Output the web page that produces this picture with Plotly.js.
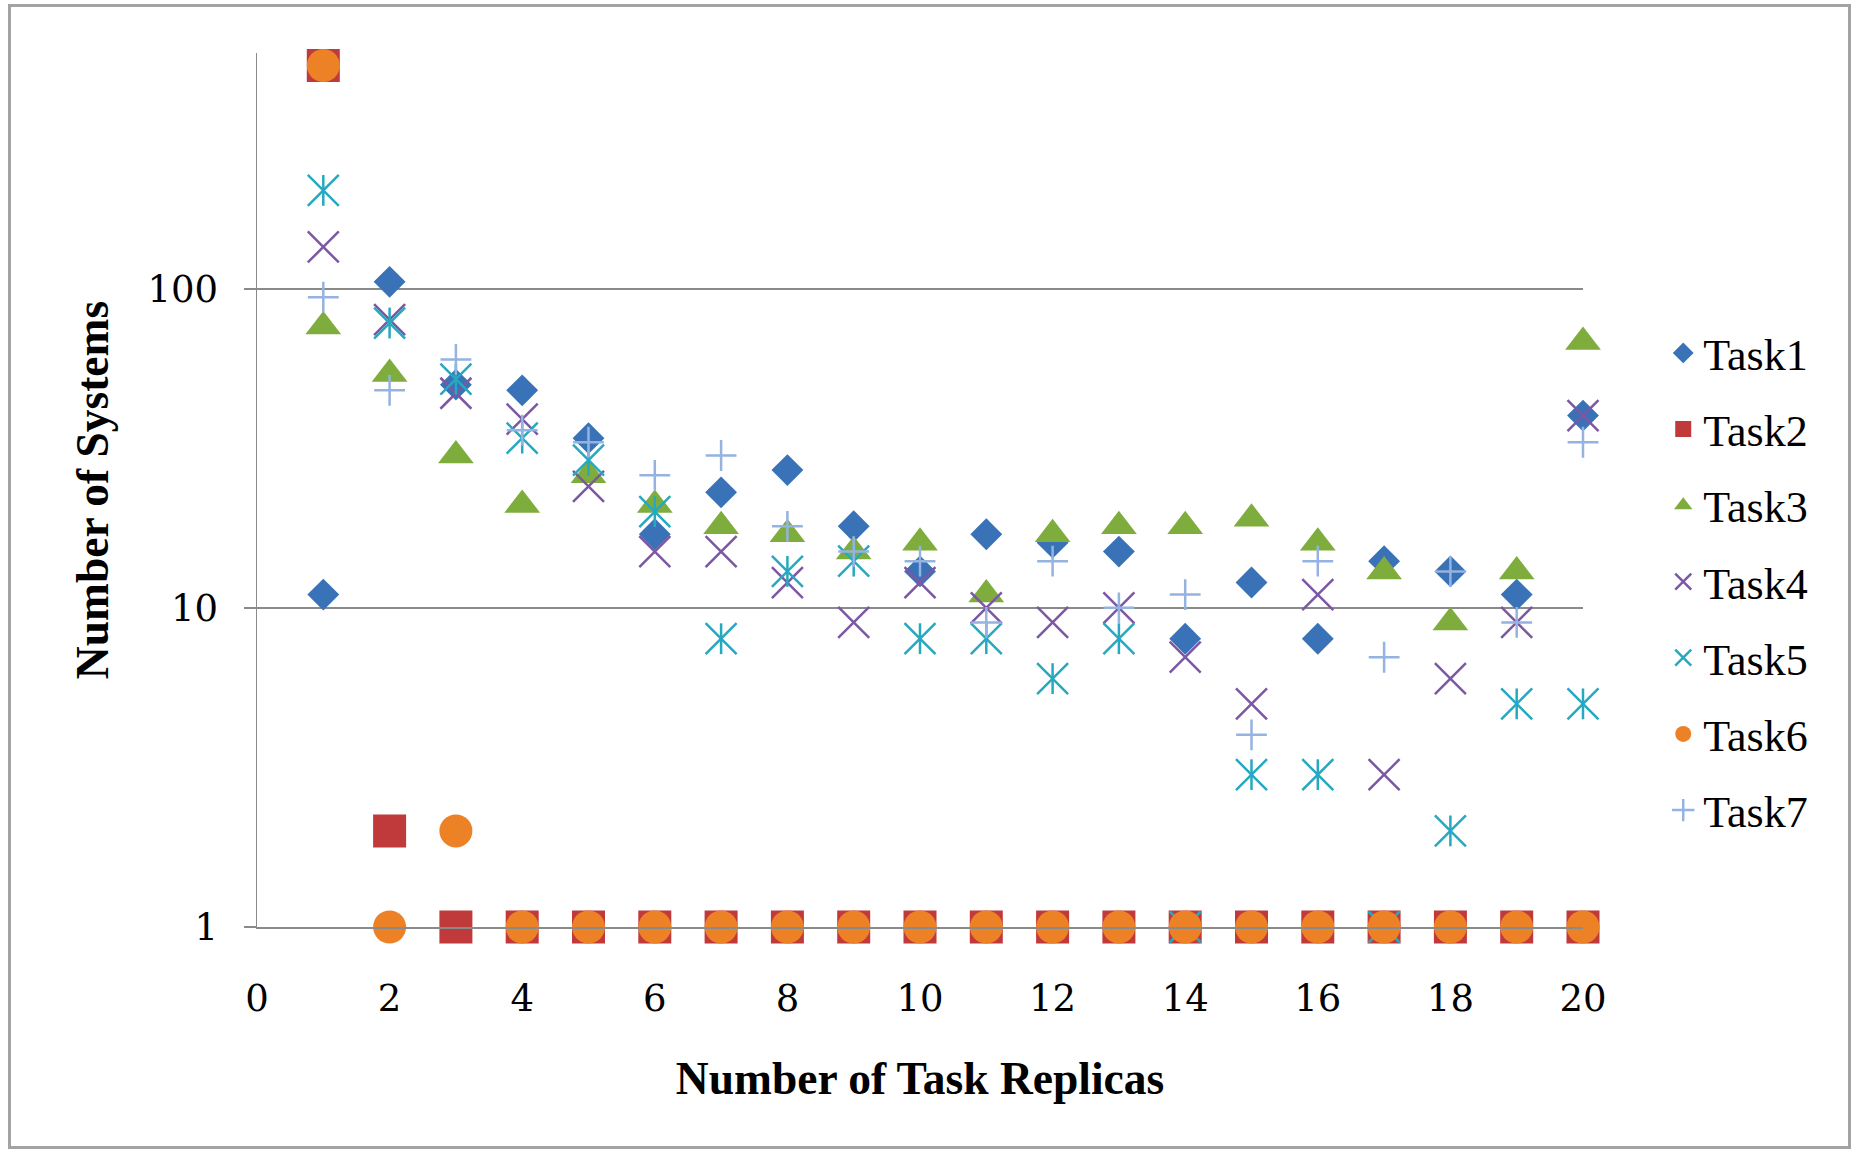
<!DOCTYPE html>
<html><head><meta charset="utf-8">
<script src="https://cdn.plot.ly/plotly-3.0.1.min.js"></script>
<style>
html,body{margin:0;padding:0;background:#fff;}
#chart{position:absolute;left:0;top:0;width:1854px;height:1151px;}
#frame{position:absolute;left:8px;top:4px;width:1843px;height:1145px;box-sizing:border-box;border:3px solid #a3a3a3;pointer-events:none;}
</style>
</head><body>
<div id="chart"></div><div id="frame"></div>
<script>
const replicas = [1,2,3,4,5,6,7,8,9,10,11,12,13,14,15,16,17,18,19,20];
const task1 = [11,105,50,48,34,17,23,27,18,13,17,16,15,8,12,8,14,13,11,40];
const task2 = [500,2,1,1,1,1,1,1,1,1,1,1,1,1,1,1,1,1,1,1];
const task3 = [76,54,30,21,26,21,18,17,15,16,11,17,18,18,19,16,13,9,13,68];
const task4 = [135,80,47,39,24,15,15,12,9,12,10,9,10,7,5,11,3,6,9,40];
const task5 = [203,78,52,34,29,20,8,13,14,8,8,6,8,1,3,3,1,2,5,5];
const task6 = [500,1,2,1,1,1,1,1,1,1,1,1,1,1,1,1,1,1,1,1];
const task7 = [94,48,60,36,33,26,30,18,15,14,9,14,10,11,4,14,7,13,9,33];
const xTicks = [0,2,4,6,8,10,12,14,16,18,20];
const yTicks = [1,10,100];
const yTickText = ['1','10','100'];

const FONT = '"Liberation Serif", "DejaVu Serif", serif';
const TICKFONT = '"DejaVu Serif", "Liberation Serif", serif';
const GRID = '#8a8a8a';

function tr(name, y, symbol, color, size, extra) {
  return {
    type: 'scatter', mode: 'markers', name: name, x: replicas, y: y,
    legendgroup: name, cliponaxis: false,
    marker: Object.assign({symbol: symbol, color: color, size: size}, extra || {})
  };
}

const traces = [
  tr('Task1', task1, 'diamond', '#3a72b7', 24.5),
  tr('Task2', task2, 'square', '#c0393b', 33),
  tr('Task3', task3, 'triangle-up', '#7fad3d', 31),
  tr('Task4', task4, 'x-thin-open', '#7c57a3', 31, {line: {color: '#7c57a3', width: 2.5}}),
  tr('Task5', task5, 'x-thin-open', '#26a9c0', 31, {line: {color: '#26a9c0', width: 2.5}}),
  Object.assign(tr('Task5', task5, 'line-ns-open', '#26a9c0', 22, {line: {color: '#26a9c0', width: 2.5}}), {showlegend: false}),
  tr('Task6', task6, 'circle', '#ec8126', 33),
  tr('Task7', task7, 'cross-thin-open', '#95b3e0', 22, {line: {color: '#95b3e0', width: 2.5}})
];

const layout = {
  width: 1854, height: 1151,
  margin: {l: 257, r: 271, t: 53, b: 224, pad: 0},
  paper_bgcolor: 'rgba(0,0,0,0)', plot_bgcolor: '#fff',
  font: {family: FONT, color: '#000', size: 41},
  showlegend: true,
  legend: {
    x: 1.0605, xanchor: 'left', y: 0.697, yanchor: 'top',
    font: {family: FONT, size: 44, color: '#000'},
    tracegroupgap: 16, bgcolor: 'rgba(0,0,0,0)', itemsizing: 'trace'
  },
  xaxis: {
    range: [0, 20], tickvals: xTicks, ticktext: xTicks.map(String),
    showgrid: false, zeroline: false,
    showline: true, linecolor: GRID, linewidth: 2,
    ticks: '', ticklabelstandoff: 38,
    tickfont: {family: TICKFONT, size: 37, color: '#000'},
    title: {text: '<b>Number of Task Replicas</b>', font: {family: FONT, size: 45.5, color: '#000'}, standoff: 43}
  },
  yaxis: {
    type: 'log', range: [0, 2.738],
    tickvals: yTicks, ticktext: yTickText,
    showgrid: true, gridcolor: GRID, gridwidth: 2,
    zeroline: false, showline: true, linecolor: GRID, linewidth: 1.5,
    ticks: 'outside', ticklen: 12, tickwidth: 2, tickcolor: GRID,
    ticklabelstandoff: 18,
    tickfont: {family: TICKFONT, size: 37, color: '#000'},
    title: {text: '<b>Number of Systems</b>', font: {family: FONT, size: 45.5, color: '#000'}, standoff: 24}
  }
};

Plotly.newPlot('chart', traces, layout, {displayModeBar: false, staticPlot: true});
</script>
</body></html>
